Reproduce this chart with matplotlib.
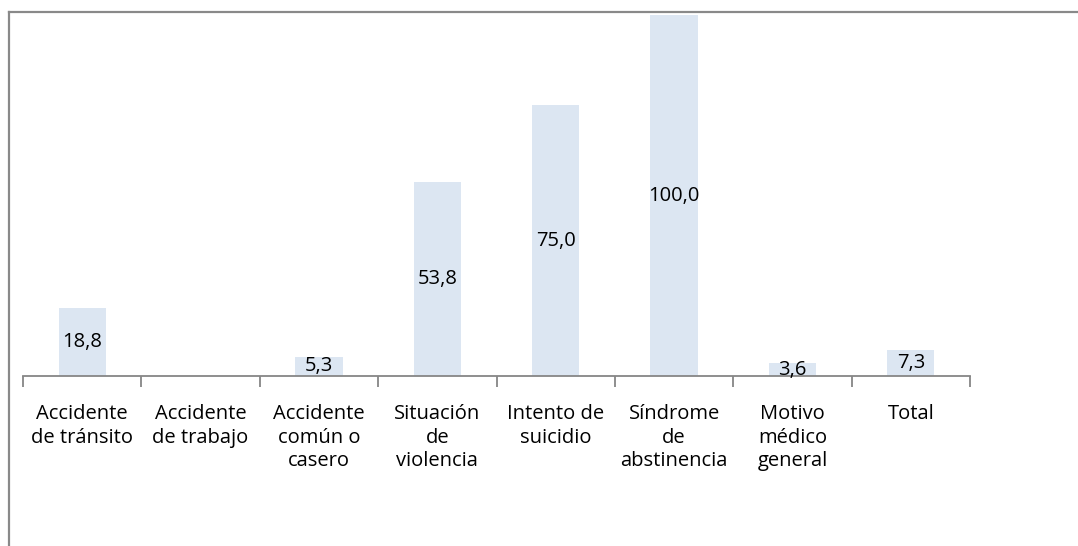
import matplotlib.pyplot as plt
from matplotlib.lines import Line2D
import numpy as np

# Data
categories = [
    'Accidente\nde tránsito', 'Accidente\nde trabajo', 'Accidente\ncomún o\ncasero',
    'Situación\nde\nviolencia', 'Intento de\nsuicidio', 'Síndrome\nde\nabstinencia',
    'Motivo\nmédico\ngeneral', 'Total'
]
values = [18.8, 0.0, 5.3, 53.8, 75.0, 100.0, 3.6, 7.3]
value_labels = ['18,8', '', '5,3', '53,8', '75,0', '100,0', '3,6', '7,3']

plt.rcParams['font.family'] = ['Open Sans', 'DejaVu Sans']

fig = plt.figure(figsize=(10.78, 5.46), dpi=100)
ax = fig.add_axes([23 / 1078, 1 - 376 / 546, (970 - 23) / 1078, (376 - 15) / 546])

x = np.arange(len(categories))
bars = ax.bar(x, values, width=0.4, color='#DCE6F2')
ax.bar_label(bars, labels=value_labels, label_type='center', fontsize=14.5, color='black')

ax.set_xlim(-0.5, len(categories) - 0.5)
ax.set_ylim(0, 100)
ax.set_yticks([])

for side in ['top', 'right', 'left']:
    ax.spines[side].set_visible(False)
ax.spines['bottom'].set_color('#868686')
ax.spines['bottom'].set_linewidth(1.3)

# category labels at centres, tick marks between categories
ax.set_xticks(x)
ax.set_xticklabels(categories, fontsize=14.5, linespacing=1.25)
ax.tick_params(axis='x', which='major', length=0, pad=20)
ax.set_xticks(np.arange(-0.5, len(categories)), minor=True)
ax.tick_params(axis='x', which='minor', length=8, width=1.3, color='#868686', direction='out')

# outer chart frame (only top and left edges visible)
fig.add_artist(Line2D([9 / 1078, 9 / 1078], [0, 1 - 12 / 546], transform=fig.transFigure,
                      color='#898989', linewidth=1.6))
fig.add_artist(Line2D([9 / 1078, 1], [1 - 12 / 546, 1 - 12 / 546], transform=fig.transFigure,
                      color='#898989', linewidth=1.6))

fig.savefig('out.png', dpi=100)
